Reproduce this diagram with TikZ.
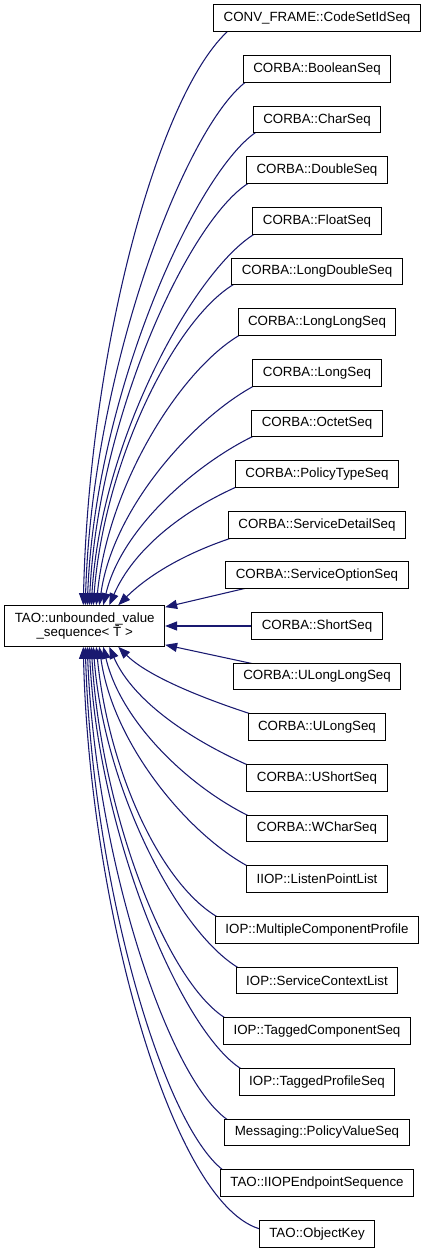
\documentclass[tikz,border=0pt]{standalone}
\usepackage{fontspec}
\setmainfont{Liberation Sans}
\usetikzlibrary{arrows.meta,calc}
\pgfdeclarelayer{bg}
\pgfsetlayers{bg,main}
\definecolor{edgeblue}{HTML}{191970}
\begin{document}
\begin{tikzpicture}[x=0.75pt,y=-0.75pt,
  cls/.style={draw=black,fill=white,line width=0.75pt,inner xsep=7.5pt,inner ysep=0pt,minimum height=20pt,font=\fontsize{10}{11}\selectfont},
  base/.style={cls,minimum width=119.5pt,minimum height=30.5pt,align=center},
  edge/.style={draw=edgeblue,line width=0.8pt,-{Triangle[length=9pt,width=6.8pt]}},
]
\useasboundingbox (0,0) rectangle (427,1253);
\node[base] (m) at (84.7,626) {TAO::unbounded\_value\\\_sequence< \=T >};
\node[cls] (c0) at (317,18.3) {CONV\_FRAME::CodeSetIdSeq};
\node[cls] (c1) at (317,68.9) {CORBA::BooleanSeq};
\node[cls] (c2) at (317,119.6) {CORBA::CharSeq};
\node[cls] (c3) at (317,170.2) {CORBA::DoubleSeq};
\node[cls] (c4) at (317,220.9) {CORBA::FloatSeq};
\node[cls] (c5) at (317,271.5) {CORBA::LongDoubleSeq};
\node[cls] (c6) at (317,322.1) {CORBA::LongLongSeq};
\node[cls] (c7) at (317,372.8) {CORBA::LongSeq};
\node[cls] (c8) at (317,423.4) {CORBA::OctetSeq};
\node[cls] (c9) at (317,474.1) {CORBA::PolicyTypeSeq};
\node[cls] (c10) at (317,524.7) {CORBA::ServiceDetailSeq};
\node[cls] (c11) at (317,575.3) {CORBA::ServiceOptionSeq};
\node[cls] (c12) at (317,626) {CORBA::ShortSeq};
\node[cls] (c13) at (317,676.6) {CORBA::ULongLongSeq};
\node[cls] (c14) at (317,727.3) {CORBA::ULongSeq};
\node[cls] (c15) at (317,777.9) {CORBA::UShortSeq};
\node[cls] (c16) at (317,828.5) {CORBA::WCharSeq};
\node[cls] (c17) at (317,879.2) {IIOP::ListenPointList};
\node[cls] (c18) at (317,929.8) {IOP::MultipleComponentProfile};
\node[cls] (c19) at (317,980.5) {IOP::ServiceContextList};
\node[cls] (c20) at (317,1031.1) {IOP::TaggedComponentSeq};
\node[cls] (c21) at (317,1081.7) {IOP::TaggedProfileSeq};
\node[cls] (c22) at (317,1132.4) {Messaging::PolicyValueSeq};
\node[cls] (c23) at (317,1183.0) {TAO::IIOPEndpointSequence};
\node[cls] (c24) at (317,1233.7) {TAO::ObjectKey};
\begin{pgfonlayer}{bg}
\draw[edge] ($(c0.south west)+(17,-3)$) .. controls +(-70,60) and +(6,-260) .. ($(m.north west)+(79,0)$);
\draw[edge] ($(c1.south west)+(6,-3)$) .. controls +(-62,42) and +(7,-237) .. ($(m.north west)+(81,0)$);
\draw[edge] ($(c2.south west)+(6,-3)$) .. controls +(-60,36) and +(8,-214) .. ($(m.north west)+(83,0)$);
\draw[edge] ($(c3.south west)+(6,-3)$) .. controls +(-60,32) and +(9,-191) .. ($(m.north west)+(85,0)$);
\draw[edge] ($(c4.south west)+(6,-3)$) .. controls +(-60,32) and +(10,-169) .. ($(m.north west)+(87,0)$);
\draw[edge] ($(c5.south west)+(6,-3)$) .. controls +(-60,32) and +(11,-146) .. ($(m.north west)+(89,0)$);
\draw[edge] ($(c6.south west)+(6,-3)$) .. controls +(-60,32) and +(12,-123) .. ($(m.north west)+(92,0)$);
\draw[edge] ($(c7.south west)+(6,-3)$) .. controls +(-60,30) and +(14,-100) .. ($(m.north west)+(95,0)$);
\draw[edge] ($(c8.south west)+(6,-3)$) .. controls +(-60,28) and +(18,-77) .. ($(m.north west)+(99,0)$);
\draw[edge] ($(c9.south west)+(6,-3)$) .. controls +(-60,26) and +(24,-55) .. ($(m.north west)+(105,0)$);
\draw[edge] ($(c10.south west)+(8,-2)$) .. controls +(-50,16) and +(30,-30) .. ($(m.north west)+(114,0)$);
\draw[edge] ($(c11.south west)+(25,-2)$) -- ($(m.north east)+(0,2)$);
\draw[edge] (c12.west) -- (m.east);
\draw[edge] ($(c13.north west)+(25,2)$) -- ($(m.south east)+(0,-2)$);
\draw[edge] ($(c14.north west)+(8,2)$) .. controls +(-50,-16) and +(30,30) .. ($(m.south west)+(114,0)$);
\draw[edge] ($(c15.north west)+(6,3)$) .. controls +(-60,-26) and +(24,55) .. ($(m.south west)+(105,0)$);
\draw[edge] ($(c16.north west)+(6,3)$) .. controls +(-60,-28) and +(18,77) .. ($(m.south west)+(99,0)$);
\draw[edge] ($(c17.north west)+(6,3)$) .. controls +(-60,-30) and +(14,100) .. ($(m.south west)+(95,0)$);
\draw[edge] ($(c18.north west)+(6,3)$) .. controls +(-60,-32) and +(12,123) .. ($(m.south west)+(92,0)$);
\draw[edge] ($(c19.north west)+(6,3)$) .. controls +(-60,-32) and +(11,146) .. ($(m.south west)+(89,0)$);
\draw[edge] ($(c20.north west)+(6,3)$) .. controls +(-60,-32) and +(10,169) .. ($(m.south west)+(87,0)$);
\draw[edge] ($(c21.north west)+(6,3)$) .. controls +(-60,-32) and +(9,191) .. ($(m.south west)+(85,0)$);
\draw[edge] ($(c22.north west)+(6,3)$) .. controls +(-60,-36) and +(8,214) .. ($(m.south west)+(83,0)$);
\draw[edge] ($(c23.north west)+(6,3)$) .. controls +(-62,-42) and +(7,237) .. ($(m.south west)+(81,0)$);
\draw[edge] ($(c24.west)+(4,-4)$) .. controls +(-90,-20) and +(6,260) .. ($(m.south west)+(79,0)$);
\end{pgfonlayer}
\end{tikzpicture}
\end{document}
